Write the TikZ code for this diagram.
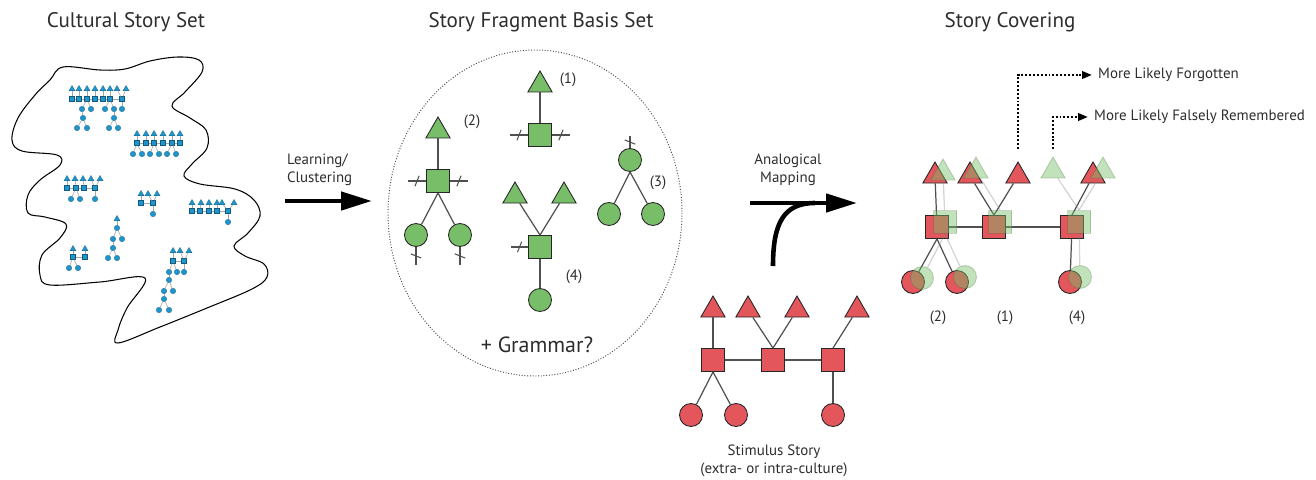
\documentclass[tikz,border=0pt]{standalone}
\usepackage{fontspec}
\setmainfont{PT Sans}
\usetikzlibrary{shapes.geometric,arrows.meta,decorations.markings}

\definecolor{storyblue}{RGB}{30,150,205}
\definecolor{fraggreen}{RGB}{120,190,105}
\definecolor{stimred}{RGB}{226,86,92}
\definecolor{linkgray}{RGB}{80,80,80}
\definecolor{textgray}{RGB}{45,45,45}

\tikzset{
  bigtri/.style={regular polygon, regular polygon sides=3, draw=black!85, line width=0.5pt, minimum size=0.56cm, inner sep=0pt},
  bigsq/.style={rectangle, draw=black!85, line width=0.5pt, minimum size=0.46cm, inner sep=0pt},
  bigcirc/.style={circle, draw=black!85, line width=0.5pt, minimum size=0.46cm, inner sep=0pt},
  frag/.style={fill=fraggreen},
  stim/.style={fill=stimred},
  ghost/.style={fill=fraggreen, fill opacity=0.45, draw=fraggreen!60!black, draw opacity=0.3},
  link/.style={draw=linkgray, line width=0.7pt},
  ghostlink/.style={draw=gray, line width=0.7pt, draw opacity=0.35},
  stub/.style={postaction={decorate,decoration={markings,mark=at position 0.5 with {\draw[linkgray,line width=0.6pt] (-1.2pt,-3pt) -- (1.2pt,3pt);}}}},
  mtri/.style={regular polygon, regular polygon sides=3, fill=storyblue, draw=storyblue!60!black, line width=0.15pt, minimum size=0.14cm, inner sep=0pt},
  msq/.style={rectangle, fill=storyblue, draw=storyblue!60!black, line width=0.15pt, minimum size=0.1cm, inner sep=0pt},
  mcirc/.style={circle, fill=storyblue, draw=storyblue!60!black, line width=0.15pt, minimum size=0.11cm, inner sep=0pt},
  mlink/.style={draw=gray!70, line width=0.35pt},
  bigarrow/.style={line width=2.6pt, -{Triangle[length=0.62cm,width=0.36cm]}},
  dotarrow/.style={line width=1.3pt, dash pattern=on 1.1pt off 1.1pt, -{Triangle[length=0.2cm,width=0.15cm]}},
  heading/.style={font=\fontsize{12}{14}\selectfont, text=textgray},
  lbl/.style={font=\fontsize{8.5}{10}\selectfont, text=textgray},
}

\begin{document}
\begin{tikzpicture}[x=0.02cm, y=-0.02cm]
  \useasboundingbox (0,0) rectangle (1316,480);

  % headings
  \node[heading] (h1) at (126,22) {Cultural Story Set};
  \node[heading] (h2) at (541,22) {Story Fragment Basis Set};
  \node[heading] (h3) at (1010,22) {Story Covering};

  % cultural story set outline
  \draw[line width=0.6pt] plot[smooth cycle, tension=0.6] coordinates {
    (63,67) (100,70) (125,69) (150,61) (178,57) (199,60) (202,72) (185,92)
    (172,106) (190,118) (206,130) (207,148) (192,164) (184,176) (200,184)
    (235,189) (254,200) (260,216) (248,233) (234,246) (245,256) (264,264)
    (267,277) (252,289) (207,308) (160,327) (118,343) (118,330) (127,308)
    (145,278) (100,282) (50,285) (40,275) (42,255) (60,238) (66,224) (45,217)
    (28,213) (28,195) (40,180) (60,165) (57,155) (22,151) (12,140) (18,118)
    (35,95) (50,80)};

  % small stories
  \foreach \n/\x/\y in {At1/72/89,At2/79/89,At3/87/89,At4/95/89,At5/103/89,At6/110/89,At7/117/89,At8/126/89,
      Bt1/137/134,Bt2/146/134,Bt3/154/134,Bt4/163/134,Bt5/172/134,Bt6/180/134,
      Ct1/67/179,Ct2/75/179,Ct3/83/179,Ct4/91/179,Ct5/100/179,
      Dt1/141/194,Dt2/148/194,Dt3/157/194,
      Et1/192/203,Et2/201/203,Et3/209/203,Et4/217/203,Et5/222/203,Et6/234/203,
      Ft1/117/219,Gt1/73/249,Gt2/85/249,Ht1/173/251,Ht2/180/251,Ht3/189/251}
    \node[mtri] (\n) at (\x,\y) {};
  \foreach \n/\x/\y in {As1/72/99,As2/79/99,As3/87/99,As4/95/99,As5/103/99,As6/110/99,As7/122/99,
      Bs1/137/143,Bs2/146/143,Bs3/154/143,Bs4/163/143,Bs5/172/143,Bs6/180/143,
      Cs1/67/188,Cs2/76/188,Cs3/84/188,Cs4/95/188,
      Ds1/141/203,Ds2/153/203,
      Es1/192/211,Es2/200/211,Es3/209/211,Es4/217/211,Es5/228/211,
      Gs1/73/257,Gs2/85/257,Hs1/173/261,Hs2/184/261}
    \node[msq] (\n) at (\x,\y) {};
  \foreach \n/\x/\y in {Ac1/82/109,Ac2/91/109,Ac3/105/109,Ac4/114/109,Ac5/122/109,Ac6/83/118,Ac7/114/118,
      Ac8/77/128,Ac9/87/128,Ac10/109/128,Ac11/118/128,
      Bc1/133/154,Bc2/142/154,Bc3/150/154,Bc4/159/154,Bc5/167/154,Bc6/176/154,
      Cc1/71/199,Cc2/80/199,Cc3/95/199,Dc1/153/214,Ec1/228/222,
      Fc1/117/228,Fc2/113/239,Fc3/122/239,Fc4/113/248,Fc5/108/258,Fc6/117/258,
      Gc1/69/268,Gc2/78/268,
      Hc1/169/272,Hc2/177/272,Hc3/184/272,Hc4/169/280,Hc5/164/291,Hc6/173/291,Hc7/164/299,Hc8/159/310,Hc9/169/310}
    \node[mcirc] (\n) at (\x,\y) {};
  \foreach \a/\b in {At1/As1,At2/As2,At3/As3,At4/As4,At5/As5,At6/As6,At7/As7,At8/As7,
      As1/As2,As2/As3,As3/As4,As4/As5,As5/As6,As6/As7,As3/Ac1,As3/Ac2,As6/Ac3,As6/Ac4,As7/Ac5,
      Ac1/Ac6,Ac4/Ac7,Ac6/Ac8,Ac6/Ac9,Ac7/Ac10,Ac7/Ac11,
      Bt1/Bs1,Bt2/Bs2,Bt3/Bs3,Bt4/Bs4,Bt5/Bs5,Bt6/Bs6,Bs1/Bs2,Bs2/Bs3,Bs3/Bs4,Bs4/Bs5,Bs5/Bs6,
      Bs1/Bc1,Bs1/Bc2,Bs3/Bc3,Bs3/Bc4,Bs5/Bc5,Bs5/Bc6,
      Ct1/Cs1,Ct2/Cs2,Ct3/Cs3,Ct4/Cs4,Ct5/Cs4,Cs1/Cs2,Cs2/Cs3,Cs3/Cs4,Cs2/Cc1,Cs2/Cc2,Cs4/Cc3,
      Dt1/Ds1,Dt2/Ds2,Dt3/Ds2,Ds1/Ds2,Ds2/Dc1,
      Et1/Es1,Et2/Es2,Et3/Es3,Et4/Es4,Et5/Es5,Et6/Es5,Es1/Es2,Es2/Es3,Es3/Es4,Es4/Es5,Es5/Ec1,
      Ft1/Fc1,Fc1/Fc2,Fc1/Fc3,Fc2/Fc4,Fc4/Fc5,Fc4/Fc6,
      Gt1/Gs1,Gt2/Gs2,Gs1/Gs2,Gs1/Gc1,Gs1/Gc2,
      Ht1/Hs1,Ht2/Hs2,Ht3/Hs2,Hs1/Hs2,Hs1/Hc1,Hs1/Hc2,Hs2/Hc3,Hc1/Hc4,Hc4/Hc5,Hc4/Hc6,Hc5/Hc7,Hc7/Hc8,Hc7/Hc9}
    \draw[mlink] (\a) -- (\b);

  % learning arrow
  \coordinate (learnA) at (285,201);
  \coordinate (learnB) at (372,201);
  \draw[bigarrow] (learnA) -- (learnB);
  \node[lbl, anchor=west, align=left] (learnlbl) at (281,170) {Learning/\\Clustering};

  % basis set
  \draw[densely dotted, gray!60!black, line width=0.55pt] (535,213) ellipse [x radius=147, y radius=163];

  % fragment (1)
  \node[bigtri,frag] (f1tri) at (540,85) {};
  \node[bigsq,frag] (f1sq) at (540,135) {};
  \draw[link] (f1sq) -- (f1tri);
  \draw[link,stub] (f1sq.west) -- +(-18,0);
  \draw[link,stub] (f1sq.east) -- +(18,0);
  \node[lbl] (f1lbl) at (568,80) {(1)};

  % fragment (2)
  \node[bigtri,frag] (f2tri) at (438,131) {};
  \node[bigsq,frag] (f2sq) at (438,181) {};
  \node[bigcirc,frag] (f2l) at (416,235) {};
  \node[bigcirc,frag] (f2r) at (460,235) {};
  \draw[link] (f2sq) -- (f2tri);
  \draw[link] (f2sq.south) -- (f2l);
  \draw[link] (f2sq.south) -- (f2r);
  \draw[link,stub] (f2sq.west) -- +(-18,0);
  \draw[link,stub] (f2sq.east) -- +(18,0);
  \draw[link,stub] (f2l.south) -- +(0,18);
  \draw[link,stub] (f2r.south) -- +(0,18);
  \node[lbl] (f2lbl) at (472,122) {(2)};

  % fragment (3)
  \node[bigcirc,frag] (f3top) at (630,160) {};
  \node[bigcirc,frag] (f3l) at (609,214) {};
  \node[bigcirc,frag] (f3r) at (653,214) {};
  \draw[link] (f3top.south) -- (f3l);
  \draw[link] (f3top.south) -- (f3r);
  \draw[link,stub] (f3top.north) -- +(0,-12);
  \node[lbl] (f3lbl) at (658,183) {(3)};

  % fragment (4)
  \node[bigtri,frag] (f4tl) at (515,196) {};
  \node[bigtri,frag] (f4tr) at (564,196) {};
  \node[bigsq,frag] (f4sq) at (540,247) {};
  \node[bigcirc,frag] (f4c) at (540,300) {};
  \draw[link] (f4sq.north) -- (f4tl);
  \draw[link] (f4sq.north) -- (f4tr);
  \draw[link] (f4sq) -- (f4c);
  \draw[link,stub] (f4sq.west) -- +(-17,0);
  \node[lbl] (f4lbl) at (574,277) {(4)};

  \node[font=\fontsize{12.5}{14}\selectfont, text=textgray] (grammar) at (537,345) {+ Grammar?};

  % analogical mapping
  \coordinate (mapA) at (750,203);
  \coordinate (mapB) at (857,203);
  \coordinate (mapC) at (773,266);
  \coordinate (mapJ) at (815,203);
  \draw[bigarrow] (mapA) -- (mapB);
  \draw[line width=2.6pt] (mapC) .. controls +(0,-42) and +(-32,0) .. (mapJ);
  \node[lbl, align=center] (maplbl) at (788,170) {Analogical\\Mapping};

  % stimulus story
  \foreach \n/\x in {1/713,2/748,3/797,4/857}
    \node[bigtri,stim] (st\n) at (\x,310) {};
  \foreach \n/\x in {1/713,2/773,3/833}
    \node[bigsq,stim] (ss\n) at (\x,360) {};
  \foreach \n/\x in {1/691,2/736,3/833}
    \node[bigcirc,stim] (sc\n) at (\x,415) {};
  \draw[link] (ss1) -- (st1);
  \draw[link] (ss2.north) -- (st2);
  \draw[link] (ss2.north) -- (st3);
  \draw[link] (ss3.north) -- (st4);
  \draw[link] (ss1) -- (ss2);
  \draw[link] (ss2) -- (ss3);
  \draw[link] (ss1.south) -- (sc1);
  \draw[link] (ss1.south) -- (sc2);
  \draw[link] (ss3) -- (sc3);
  \node[lbl, align=center] (stimlbl) at (774,461) {Stimulus Story\\(extra- or intra-culture)};

  % story covering, stimulus part
  \foreach \n/\x in {1/935,2/970,3/1018,4/1093}
    \node[bigtri,stim] (rt\n) at (\x,176) {};
  \foreach \n/\x in {1/937,2/994,3/1072}
    \node[bigsq,stim] (rs\n) at (\x,227) {};
  \foreach \n/\x in {1/913,2/957,3/1070}
    \node[bigcirc,stim] (rc\n) at (\x,282) {};
  \draw[link] (rs1) -- (rt1);
  \draw[link] (rs2.north) -- (rt2);
  \draw[link] (rs2.north) -- (rt3);
  \draw[link] (rs3.north) -- (rt4);
  \draw[link] (rs1) -- (rs2);
  \draw[link] (rs2) -- (rs3);
  \draw[link] (rs1.south) -- (rc1);
  \draw[link] (rs1.south) -- (rc2);
  \draw[link] (rs3) -- (rc3);

  % story covering, fragment part
  \foreach \n/\x/\y in {1/943/173,2/976/171,3/1053/171,4/1103/171}
    \node[bigtri,ghost] (gt\n) at (\x,\y) {};
  \foreach \n/\x in {1/945,2/1000,3/1079}
    \node[bigsq,ghost] (gs\n) at (\x,222) {};
  \foreach \n/\x/\y in {1/922/278,2/965/277,3/1080/277}
    \node[bigcirc,ghost] (gc\n) at (\x,\y) {};
  \draw[ghostlink] (gs1) -- (gt1);
  \draw[ghostlink] (gs2.north) -- (gt2);
  \draw[ghostlink] (gs3.north) -- (gt3);
  \draw[ghostlink] (gs3.north) -- (gt4);
  \draw[ghostlink] (gs1.south) -- (gc1);
  \draw[ghostlink] (gs1.south) -- (gc2);
  \draw[ghostlink] (gs3) -- (gc3);

  \node[lbl] (cov2) at (938,318) {(2)};
  \node[lbl] (cov1) at (1005,318) {(1)};
  \node[lbl] (cov4) at (1077,318) {(4)};

  % forgotten / falsely remembered
  \node[lbl, anchor=west] (forgot) at (1092,75) {More Likely Forgotten};
  \node[lbl, anchor=west] (falsely) at (1088,117) {More Likely Falsely Remembered};
  \draw[dotarrow] ([yshift=7pt]rt3.north) |- (forgot);
  \draw[dotarrow] ([yshift=4pt]gt3.north) |- (falsely);
\end{tikzpicture}
\end{document}
